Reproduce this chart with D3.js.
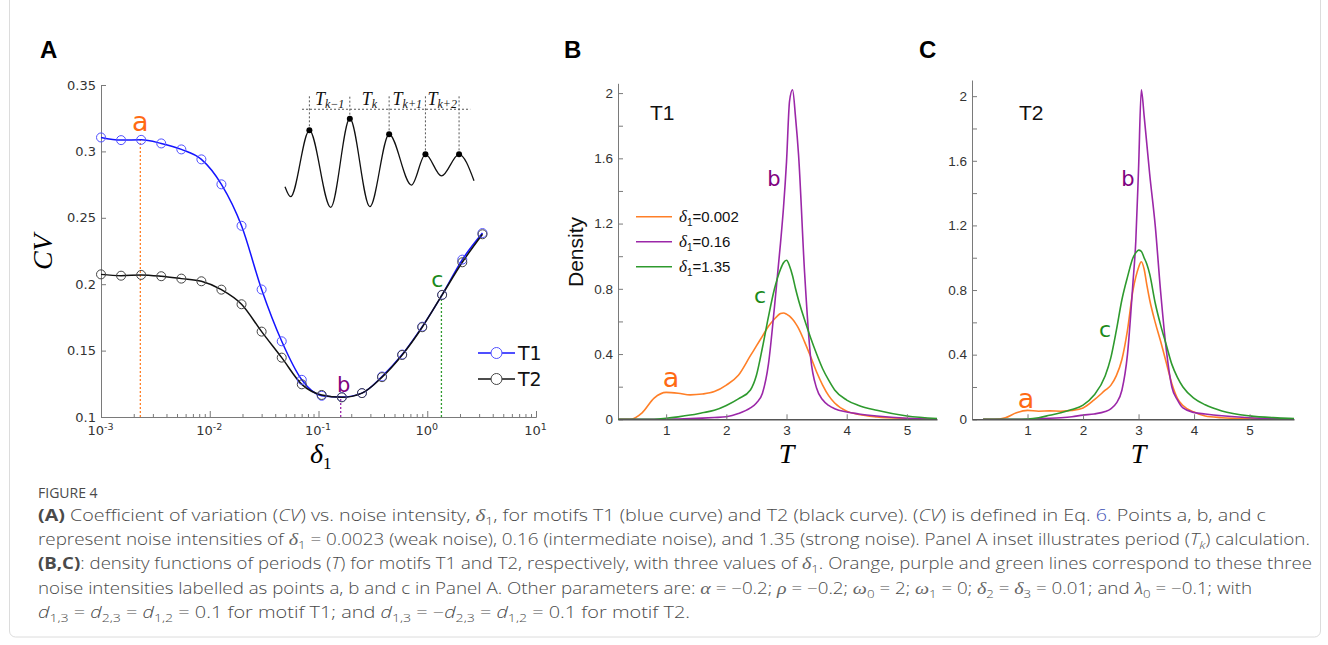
<!DOCTYPE html>
<html>
<head>
<meta charset="utf-8">
<script src="https://cdn.jsdelivr.net/npm/d3@7"></script>
<style>
body { margin: 0; background: #fff; }
svg text { font-family: "DejaVu Sans", sans-serif; }
.ax path, .ax line { stroke: #7a7a7a; }
.axA text { font: 13px "DejaVu Sans", sans-serif; fill: #333; }
.axB text { font: 13.5px "Liberation Sans", Arial, sans-serif; fill: #333; }
.xbase path { stroke: #555; stroke-width: 1.6px; }
.cap { font-family: "Open Sans", sans-serif; font-size: 15.5px; font-weight: 300; fill: #4a4a4a; }
.math { font-family: "Liberation Serif", serif; font-style: italic; font-weight: normal; }
.cap .math { fill: #666; }
</style>
</head>
<body>
<svg id="fig" width="1328" height="645"></svg>
<script>
// Panel A: coefficient of variation vs noise intensity
const delta1 = [0.001, 0.00153, 0.00234, 0.00358, 0.00548, 0.00838, 0.0128, 0.0196, 0.0300, 0.0459,
  0.0702, 0.107, 0.164, 0.251, 0.384, 0.588, 0.899, 1.37, 2.10, 3.22];
const cvT1 = [0.3105, 0.3085, 0.3087, 0.3060, 0.3015, 0.2940, 0.2752, 0.2440, 0.1960, 0.1570,
  0.1280, 0.1160, 0.1150, 0.1180, 0.1305, 0.1470, 0.1680, 0.1920, 0.2185, 0.2385];
const cvT2 = [0.2074, 0.2064, 0.2070, 0.2060, 0.2042, 0.2022, 0.1959, 0.1849, 0.1643, 0.1447,
  0.1246, 0.1166, 0.1148, 0.1180, 0.1300, 0.1467, 0.1676, 0.1919, 0.2165, 0.2376];
const cvTicks = [0.1, 0.15, 0.2, 0.25, 0.3, 0.35];
const deltaTicks = [1e-3, 1e-2, 1e-1, 1e0, 1e1];
const deltaTickExp = ["-3", "-2", "-1", "0", "1"];
const pointNames = ["a", "b", "c"];
const pointDelta = [0.0023, 0.16, 1.35];
const pointCV = [0.309, 0.1148, 0.192];

// inset: sketch of an oscillation with its maxima
const insetT = [0, 3, 12.9, 24.2, 34.3, 44.9, 55.1, 66.9, 74.3, 82.8, 92.1, 100];
const insetY = [0.203, 0.116, 0.693, 0.023, 0.794, 0.029, 0.658, 0.217, 0.484, 0.296, 0.484, 0.255];
const insetPeaks = [2, 4, 6, 8, 10];
const insetSubs = ["k\u22121", "k", "k+1", "k+2"];

// Panels B and C: density of periods T
const periodsB = [0.2, 0.4, 0.6, 0.8, 1.0, 1.2, 1.4, 1.6, 1.8, 2.0, 2.2, 2.4, 2.5, 2.6, 2.7, 2.8, 2.9, 2.95,
  3.0, 3.05, 3.1, 3.15, 3.2, 3.3, 3.4, 3.5, 3.6, 3.7, 3.8, 4.0, 4.2, 4.5, 5.0, 5.5];
const densB_a = [0, 0, 0.04, 0.13, 0.165, 0.16, 0.15, 0.155, 0.17, 0.21, 0.27, 0.39, 0.45, 0.51, 0.57, 0.615, 0.648, 0.652,
  0.645, 0.632, 0.613, 0.588, 0.558, 0.475, 0.385, 0.29, 0.21, 0.145, 0.1, 0.05, 0.03, 0.015, 0.005, 0];
const densB_b = [0, 0, 0, 0, 0, 0.002, 0.004, 0.007, 0.011, 0.016, 0.035, 0.07, 0.1, 0.16, 0.34, 0.69, 1.08, 1.3,
  1.58, 1.95, 2.02, 1.85, 1.62, 0.9, 0.38, 0.19, 0.12, 0.085, 0.065, 0.045, 0.033, 0.02, 0.006, 0];
const densB_c = [0, 0, 0, 0, 0.006, 0.015, 0.026, 0.04, 0.055, 0.085, 0.125, 0.18, 0.27, 0.44, 0.63, 0.8, 0.92, 0.96,
  0.975, 0.94, 0.88, 0.8, 0.73, 0.61, 0.5, 0.4, 0.31, 0.24, 0.18, 0.118, 0.085, 0.055, 0.02, 0.005];

const periodsC = [0.2, 0.4, 0.6, 0.8, 1.0, 1.2, 1.4, 1.6, 1.8, 2.0, 2.2, 2.4, 2.5, 2.6, 2.7, 2.8, 2.9, 2.95,
  3.0, 3.05, 3.1, 3.15, 3.2, 3.3, 3.4, 3.5, 3.6, 3.7, 3.8, 4.0, 4.2, 4.5, 5.0, 5.5, 5.8];
const densC_a = [0, 0, 0.01, 0.04, 0.055, 0.05, 0.052, 0.05, 0.055, 0.07, 0.12, 0.18, 0.21, 0.27, 0.37, 0.55, 0.8, 0.88,
  0.94, 0.975, 0.93, 0.83, 0.74, 0.6, 0.48, 0.35, 0.22, 0.13, 0.085, 0.045, 0.02, 0.01, 0.003, 0, 0];
const densC_b = [0, 0, 0, 0, 0, 0.003, 0.006, 0.01, 0.016, 0.026, 0.033, 0.048, 0.065, 0.1, 0.18, 0.4, 0.85, 1.1,
  1.55, 2.04, 1.88, 1.7, 1.52, 1.2, 0.78, 0.43, 0.2, 0.12, 0.07, 0.042, 0.033, 0.022, 0.01, 0.004, 0.002];
const densC_c = [0, 0, 0, 0, 0.002, 0.01, 0.025, 0.04, 0.06, 0.088, 0.15, 0.27, 0.38, 0.55, 0.74, 0.88, 1.0, 1.03,
  1.047, 1.04, 1.0, 0.96, 0.9, 0.72, 0.58, 0.46, 0.34, 0.26, 0.2, 0.13, 0.09, 0.052, 0.021, 0.009, 0.005];

const densTicks = [0, 0.2, 0.4, 0.6, 0.8, 1.0, 1.2, 1.4, 1.6, 1.8, 2.0];
const densLabels = [0, 0.4, 0.8, 1.2, 1.6, 2.0];
const periodTicks = [1, 2, 3, 4, 5];
const legendDelta = ["0.002", "0.16", "1.35"];

const curveColors = ["#ff7f27", "#9b27a8", "#2e9a2e"];
const labelColors = ["#ff6a13", "#800080", "#1b8a1b"];

const svg = d3.select("#fig");

// outer frame
svg.append("rect").attr("x", 9.5).attr("y", -8).attr("width", 1311).attr("height", 645).attr("rx", 6)
  .attr("fill", "none").attr("stroke", "#dcdcdc");

// panel letters
[["A", 40], ["B", 564], ["C", 919]].forEach(p => {
  svg.append("text").attr("x", p[1]).attr("y", 58).text(p[0])
    .style("font-family", "Liberation Sans, Arial, sans-serif").style("font-weight", "bold").style("font-size", "24px");
});

//Panel A
const xA = d3.scaleLog().domain([1e-3, 1e1]).range([101, 536]);
const yA = d3.scaleLinear().domain([0.1, 0.35]).range([417, 85]);
const gA = svg.append("g");

const minorA = [];
deltaTicks.slice(0, -1).forEach(d => { for (let k = 2; k < 10; k++) minorA.push(d * k); });
gA.append("g").attr("class", "ax axA").attr("transform", "translate(0,417)")
  .call(d3.axisBottom(xA).tickValues(minorA).tickSize(-3).tickSizeOuter(0).tickFormat(""));
const xAxisA = gA.append("g").attr("class", "ax axA").attr("transform", "translate(0,417)")
  .call(d3.axisBottom(xA).tickValues(deltaTicks).tickSize(-6).tickSizeOuter(0).tickPadding(9).tickFormat(""));
xAxisA.selectAll(".tick text").each(function (d, i) {
  const t = d3.select(this).attr("dx", "-1");
  t.append("tspan").text("10");
  t.append("tspan").text(deltaTickExp[i]).attr("dy", "-5").style("font-size", "9.5px");
});
gA.append("g").attr("class", "ax axA").attr("transform", "translate(101,0)")
  .call(d3.axisLeft(yA).tickValues(cvTicks).tickSize(-5).tickSizeOuter(0).tickPadding(5).tickFormat(d3.format("~g")));

gA.append("text").attr("transform", "translate(52,252) rotate(-90)").attr("text-anchor", "middle")
  .attr("class", "math").style("font-size", "28px").text("CV");
const dl = gA.append("text").attr("x", 310).attr("y", 463).attr("class", "math").style("font-size", "28px");
dl.append("tspan").text("δ");
dl.append("tspan").text("1").attr("dy", 6).style("font-size", "17px").style("font-style", "normal");

// dotted guides for points a, b, c
pointDelta.forEach((d, i) => {
  gA.append("line").attr("x1", xA(d)).attr("x2", xA(d)).attr("y1", yA(0.1)).attr("y2", yA(pointCV[i]))
    .attr("stroke", curveColors[i]).attr("stroke-width", 1.3).attr("stroke-dasharray", "2,2");
});
const labA = [[0, 131, 27], [3, 392, 21], [-4, 287, 22]];
pointDelta.forEach((d, i) => {
  gA.append("text").attr("x", xA(d) + labA[i][0]).attr("y", labA[i][1]).attr("text-anchor", "middle")
    .attr("fill", labelColors[i]).style("font-size", labA[i][2] + "px").text(pointNames[i]);
});

const lineA = d3.line().x((d, i) => xA(delta1[i])).y(d => yA(d)).curve(d3.curveMonotoneX);
const seriesA = [[cvT1, "#1414ff", "#4f4fff"], [cvT2, "#111", "#444"]];
seriesA.forEach(s => {
  gA.append("path").datum(s[0]).attr("d", lineA).attr("fill", "none").attr("stroke", s[1]).attr("stroke-width", 1.5);
});
seriesA.forEach(s => {
  gA.selectAll(null).data(s[0]).enter().append("circle")
    .attr("cx", (d, i) => xA(delta1[i])).attr("cy", d => yA(d)).attr("r", 4.5)
    .attr("fill", "none").attr("stroke", s[2]).attr("stroke-width", 1);
});

// legend
["T1", "T2"].forEach((name, i) => {
  const y = 353 + i * 26;
  gA.append("line").attr("x1", 478).attr("x2", 515).attr("y1", y).attr("y2", y)
    .attr("stroke", seriesA[i][1]).attr("stroke-width", 1.5);
  gA.append("circle").attr("cx", 496.5).attr("cy", y).attr("r", 5.5)
    .attr("fill", "#fff").attr("stroke", seriesA[i][2]).attr("stroke-width", 1);
  gA.append("text").attr("x", 518).attr("y", y + 7).style("font-size", "19px").attr("fill", "#111").text(name);
});

// inset
const xI = d3.scaleLinear().domain([0, 100]).range([285, 474]);
const yI = d3.scaleLinear().domain([0, 1]).range([210, 95]);
const gI = svg.append("g");
gI.append("line").attr("x1", xI(9)).attr("x2", xI(98)).attr("y1", yI(0.876)).attr("y2", yI(0.876))
  .attr("stroke", "#444").attr("stroke-width", 0.9).attr("stroke-dasharray", "2,2");
insetPeaks.forEach(p => {
  gI.append("line").attr("x1", xI(insetT[p])).attr("x2", xI(insetT[p])).attr("y1", yI(insetY[p])).attr("y2", yI(0.99))
    .attr("stroke", "#444").attr("stroke-width", 0.9).attr("stroke-dasharray", "2,2");
});
gI.append("path").datum(insetY)
  .attr("d", d3.line().x((d, i) => xI(insetT[i])).y(d => yI(d)).curve(d3.curveMonotoneX))
  .attr("fill", "none").attr("stroke", "#111").attr("stroke-width", 1.3);
gI.selectAll(null).data(insetPeaks).enter().append("circle")
  .attr("cx", p => xI(insetT[p])).attr("cy", p => yI(insetY[p])).attr("r", 3).attr("fill", "#000");
insetSubs.forEach((s, i) => {
  const mid = (insetT[insetPeaks[i]] + insetT[insetPeaks[i + 1]]) / 2;
  const t = gI.append("text").attr("x", xI(mid)).attr("y", 105).attr("text-anchor", "middle")
    .attr("class", "math").style("font-size", "18px").attr("fill", "#111");
  t.append("tspan").text("T");
  t.append("tspan").text(s).attr("dy", 3).style("font-size", "12px");
});

// Panels B and C
function densityPanel(opt) {
  const g = svg.append("g");
  const x = d3.scaleLinear().domain(opt.xDomain).range(opt.xRange);
  const y = d3.scaleLinear().domain([0, opt.yMax]).range([419.3, opt.yTop]);

  g.append("g").attr("class", "ax axB").attr("transform", "translate(" + opt.xRange[0] + ",0)")
    .call(d3.axisLeft(y).tickValues(densTicks).tickSize(-5).tickSizeOuter(0).tickPadding(5)
      .tickFormat(d => densLabels.some(v => Math.abs(v - d) < 1e-9) ? d3.format("~g")(d) : ""));

  const line = d3.line().x((d, i) => x(opt.periods[i])).y(d => y(d)).curve(d3.curveMonotoneX);
  opt.curves.forEach((c, i) => {
    g.append("path").datum(c).attr("d", line).attr("fill", "none")
      .attr("stroke", curveColors[i]).attr("stroke-width", 1.6);
  });

  g.append("g").attr("class", "ax axB xbase").attr("transform", "translate(0,419.3)")
    .call(d3.axisBottom(x).tickValues(periodTicks).tickSize(-5).tickSizeOuter(0).tickPadding(6).tickFormat(d3.format("d")));

  g.append("text").attr("x", opt.xRange[0] + opt.nameDx).attr("y", 120)
    .style("font-family", "Liberation Sans, Arial, sans-serif").style("font-size", "21px").attr("fill", "#111").text(opt.name);

  g.append("text").attr("x", x(3)).attr("y", 463).attr("text-anchor", "middle")
    .attr("class", "math").style("font-size", "28px").text("T");

  opt.labels.forEach((l, i) => {
    g.append("text").attr("x", l[0]).attr("y", l[1]).attr("text-anchor", "middle")
      .attr("fill", labelColors[i]).style("font-size", l[2] + "px").text(pointNames[i]);
  });
  return g;
}

const gB = densityPanel({
  xDomain: [0.2, 5.5], xRange: [618, 937], yMax: 2.06, yTop: 83.3,
  periods: periodsB, curves: [densB_a, densB_b, densB_c], name: "T1", nameDx: 32,
  labels: [[671, 387, 27], [774, 186, 21], [760, 303, 22]]
});
gB.append("text").attr("transform", "translate(583,252) rotate(-90)").attr("text-anchor", "middle")
  .style("font-family", "Liberation Sans, Arial, sans-serif").style("font-size", "21px").attr("fill", "#111").text("Density");

legendDelta.forEach((v, i) => {
  const y = 216.7 + i * 25;
  gB.append("line").attr("x1", 636).attr("x2", 672).attr("y1", y).attr("y2", y)
    .attr("stroke", curveColors[i]).attr("stroke-width", 1.6);
  const t = gB.append("text").attr("x", 679).attr("y", y + 5.5)
    .style("font-family", "Liberation Sans, Arial, sans-serif").style("font-size", "15px").attr("fill", "#111");
  t.append("tspan").text("δ").attr("class", "math").style("font-size", "17px");
  t.append("tspan").text("1").attr("dy", 4).style("font-size", "10px");
  t.append("tspan").text("=" + v).attr("dy", -4);
});

densityPanel({
  xDomain: [0, 5.8], xRange: [972, 1294], yMax: 2.1, yTop: 80,
  periods: periodsC, curves: [densC_a, densC_b, densC_c], name: "T2", nameDx: 47,
  labels: [[1026, 408, 27], [1128, 186, 21], [1105, 337, 22]]
});

// Caption
const capLines = [
  [["(A)", "b"], [" Coefficient of variation ("], ["CV", "i"], [") vs. noise intensity, "], ["δ", "m"], ["1", "sub"],
   [", for motifs T1 (blue curve) and T2 (black curve). ("], ["CV", "i"], [") is defined in Eq. "], ["6", "link"],
   [". Points a, b, and c"]],
  [["represent noise intensities of "], ["δ", "m"], ["1", "sub"],
   [" = 0.0023 (weak noise), 0.16 (intermediate noise), and 1.35 (strong noise). Panel A inset illustrates period ("],
   ["T", "i"], ["k", "isub"], [") calculation."]],
  [["(B,C)", "b"], [": density functions of periods ("], ["T", "i"],
   [") for motifs T1 and T2, respectively, with three values of "], ["δ", "m"], ["1", "sub"],
   [". Orange, purple and green lines correspond to these three"]],
  [["noise intensities labelled as points a, b and c in Panel A. Other parameters are: "], ["α", "m"], [" = −0.2; "],
   ["ρ", "m"], [" = −0.2; "], ["ω", "m"], ["0", "sub"], [" = 2; "], ["ω", "m"], ["1", "sub"], [" = 0; "],
   ["δ", "m"], ["2", "sub"], [" = "], ["δ", "m"], ["3", "sub"], [" = 0.01; and "], ["λ", "m"], ["0", "sub"],
   [" = −0.1; with"]],
  [["d", "i"], ["1,3", "sub"], [" = "], ["d", "i"], ["2,3", "sub"], [" = "], ["d", "i"], ["1,2", "sub"],
   [" = 0.1 for motif T1; and "], ["d", "i"], ["1,3", "sub"], [" = −"], ["d", "i"], ["2,3", "sub"], [" = "],
   ["d", "i"], ["1,2", "sub"], [" = 0.1 for motif T2."]]
];
const capWidths = [1228, 1272, 1274, 1214, 652];

svg.append("text").attr("x", 38).attr("y", 498).attr("class", "cap")
  .style("font-size", "14px").style("font-weight", "normal").attr("fill", "#555").text("FIGURE 4");

capLines.forEach((segs, li) => {
  const t = svg.append("text").attr("x", 38).attr("y", 521 + li * 24.2).attr("class", "cap");
  let shift = 0;
  segs.forEach(([s, k]) => {
    const sp = t.append("tspan").text(s);
    const want = (k === "sub" || k === "isub") ? 4 : 0;
    if (want !== shift) { sp.attr("dy", want - shift); shift = want; }
    if (k === "b") sp.style("font-weight", "bold");
    if (k === "i" || k === "isub") sp.style("font-style", "italic");
    if (k === "m") sp.attr("class", "math").style("font-size", "16.5px");
    if (k === "sub" || k === "isub") sp.style("font-size", "11px");
    if (k === "link") sp.style("fill", "#3f51b5");
  });
  t.attr("textLength", capWidths[li]).attr("lengthAdjust", "spacingAndGlyphs");
});
</script>
</body>
</html>
